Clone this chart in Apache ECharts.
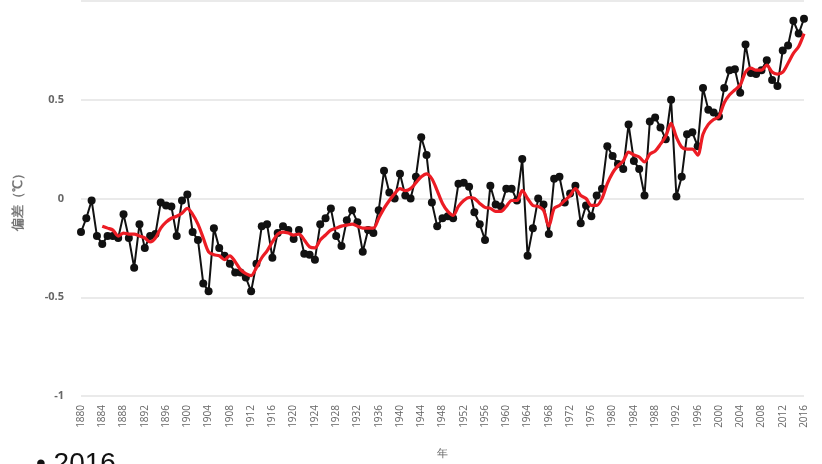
<!DOCTYPE html>
<html>
<head>
<meta charset="utf-8">
<script src="https://cdn.jsdelivr.net/npm/echarts@6/dist/echarts.min.js"></script>
<style>html,body{margin:0;padding:0;background:#fff}#c{width:822px;height:464px}</style>
</head>
<body>
<div id="c"></div>
<script>
// categories: years 1880..2016
var firstYear = 1880, lastYear = 2016;
// annual anomalies (°C)
var anom1880s = [-0.17, -0.10, -0.01, -0.19, -0.23, -0.19, -0.19, -0.20, -0.08, -0.20];
var anom1890s = [-0.35, -0.13, -0.25, -0.19, -0.18, -0.02, -0.035, -0.04, -0.19, -0.01];
var anom1900s = [0.02, -0.17, -0.21, -0.43, -0.47, -0.15, -0.25, -0.29, -0.33, -0.375];
var anom1910s = [-0.375, -0.40, -0.47, -0.33, -0.14, -0.13, -0.30, -0.175, -0.14, -0.16];
var anom1920s = [-0.205, -0.16, -0.28, -0.285, -0.31, -0.13, -0.10, -0.05, -0.19, -0.24];
var anom1930s = [-0.11, -0.06, -0.12, -0.27, -0.16, -0.175, -0.06, 0.14, 0.03, 0.0];
var anom1940s = [0.125, 0.015, 0.0, 0.11, 0.31, 0.22, -0.02, -0.14, -0.10, -0.09];
var anom1950s = [-0.10, 0.075, 0.08, 0.06, -0.07, -0.13, -0.21, 0.065, -0.03, -0.04];
var anom1960s = [0.05, 0.05, -0.01, 0.20, -0.29, -0.15, 0.0, -0.03, -0.18, 0.10];
var anom1970s = [0.11, -0.02, 0.025, 0.065, -0.125, -0.035, -0.09, 0.015, 0.05, 0.265];
var anom1980s = [0.215, 0.175, 0.15, 0.375, 0.19, 0.15, 0.015, 0.39, 0.41, 0.36];
var anom1990s = [0.30, 0.50, 0.01, 0.11, 0.325, 0.335, 0.265, 0.56, 0.45, 0.435];
var anom2000s = [0.415, 0.56, 0.65, 0.655, 0.535, 0.78, 0.635, 0.63, 0.65, 0.70];
var anom2010s = [0.60, 0.57, 0.75, 0.775, 0.90, 0.835, 0.91];

// smoothed curve (red), starts 1884
var smooth1880s = [null, null, null, null, -0.14, -0.15, -0.16, -0.19, -0.175, -0.18];
var smooth1890s = [-0.18, -0.19, -0.20, -0.22, -0.20, -0.15, -0.12, -0.10, -0.09, -0.075];
var smooth1900s = [-0.05, -0.08, -0.13, -0.20, -0.27, -0.285, -0.29, -0.31, -0.29, -0.32];
var smooth1910s = [-0.36, -0.38, -0.39, -0.35, -0.30, -0.265, -0.22, -0.18, -0.17, -0.175];
var smooth1920s = [-0.185, -0.18, -0.21, -0.245, -0.25, -0.21, -0.185, -0.16, -0.15, -0.14];
var smooth1930s = [-0.135, -0.13, -0.14, -0.15, -0.15, -0.15, -0.10, -0.05, -0.01, 0.025];
var smooth1940s = [0.05, 0.04, 0.05, 0.08, 0.11, 0.125, 0.10, 0.04, -0.025, -0.065];
var smooth1950s = [-0.085, -0.04, -0.01, 0.005, 0.0, -0.025, -0.045, -0.05, -0.065, -0.065];
var smooth1960s = [-0.04, -0.01, -0.01, 0.04, 0.0, -0.035, -0.04, -0.06, -0.14, -0.05];
var smooth1970s = [-0.035, -0.01, 0.015, 0.05, 0.015, 0.0, -0.035, -0.035, 0.0, 0.075];
var smooth1980s = [0.13, 0.165, 0.19, 0.235, 0.22, 0.21, 0.185, 0.225, 0.24, 0.275];
var smooth1990s = [0.315, 0.38, 0.31, 0.26, 0.25, 0.25, 0.22, 0.325, 0.375, 0.40];
var smooth2000s = [0.415, 0.485, 0.525, 0.55, 0.575, 0.64, 0.66, 0.65, 0.65, 0.675];
var smooth2010s = [0.64, 0.63, 0.64, 0.685, 0.735, 0.77, 0.835];

var yTicks = [-1, -0.5, 0, 0.5, 1];
var xName = '年';
var yName = '偏差（℃）';

var years = [];
for (var y = firstYear; y <= lastYear; y++) years.push(String(y));
var anomaly = [].concat(anom1880s, anom1890s, anom1900s, anom1910s, anom1920s, anom1930s, anom1940s, anom1950s, anom1960s, anom1970s, anom1980s, anom1990s, anom2000s, anom2010s);
var smoothed = [].concat(smooth1880s, smooth1890s, smooth1900s, smooth1910s, smooth1920s, smooth1930s, smooth1940s, smooth1950s, smooth1960s, smooth1970s, smooth1980s, smooth1990s, smooth2000s, smooth2010s);

var chart = echarts.init(document.getElementById('c'), null, {renderer: 'canvas'});
chart.setOption({
  animation: false,
  backgroundColor: '#fff',
  grid: {left: 81, right: 18, top: 1, bottom: 63},
  xAxis: {
    type: 'category',
    data: years,
    boundaryGap: false,
    name: xName,
    nameLocation: 'middle',
    nameGap: 52,
    nameTextStyle: {color: '#666', fontSize: 11},
    axisLine: {show: false},
    axisTick: {show: false},
    axisLabel: {interval: 3, rotate: 90, fontSize: 10, color: '#666', margin: 9, fontFamily: 'Open Sans'}
  },
  yAxis: {
    type: 'value',
    min: yTicks[0],
    max: yTicks[yTicks.length - 1],
    interval: 0.5,
    name: yName,
    nameLocation: 'middle',
    nameGap: 56,
    nameTextStyle: {color: '#777', fontSize: 13, fontWeight: 'bold'},
    axisLine: {show: false},
    axisTick: {show: false},
    splitLine: {lineStyle: {color: '#e3e3e3', width: 1.5}},
    axisLabel: {color: '#666', fontSize: 11, fontWeight: 'bold', margin: 17, showMaxLabel: false, fontFamily: 'Open Sans'}
  },
  series: [
    {
      type: 'line',
      data: anomaly,
      symbol: 'circle',
      symbolSize: 8,
      showAllSymbol: true,
      itemStyle: {color: '#111'},
      lineStyle: {color: '#111', width: 2},
      z: 2
    },
    {
      type: 'line',
      data: smoothed,
      symbol: 'none',
      smooth: 0.3,
      connectNulls: false,
      lineStyle: {color: '#ec1c24', width: 3.2},
      z: 3
    }
  ],
  graphic: [
    {type: 'text', left: 36, top: 450, style: {text: '• 2016', font: '28px "Liberation Sans", Arial, sans-serif', fill: '#111'}}
  ]
});
</script>
</body>
</html>
